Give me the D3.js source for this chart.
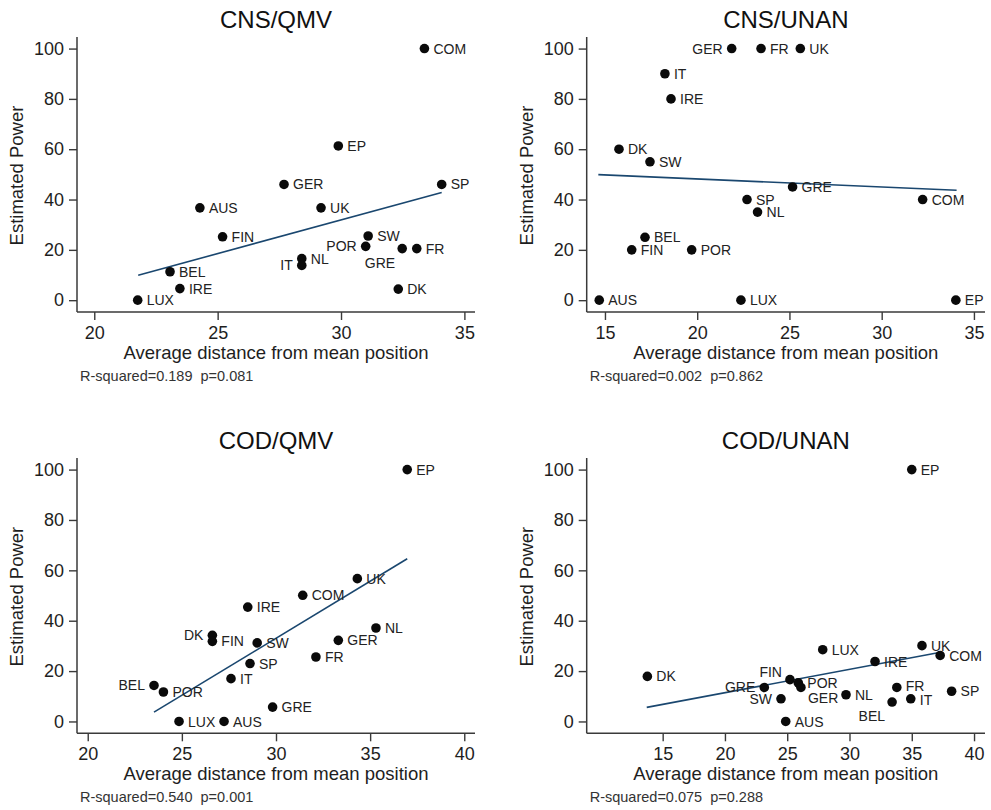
<!DOCTYPE html>
<html>
<head>
<meta charset="utf-8">
<script src="https://cdn.jsdelivr.net/npm/d3@7"></script>
<style>
  html, body { margin: 0; padding: 0; background: #fff; }
  svg { display: block; font-family: "Liberation Sans", Arial, Helvetica, sans-serif; }
</style>
</head>
<body>
<svg id="chart" width="991" height="810"></svg>
<script>
// ---------------- DATA ----------------
const titles = ["CNS/QMV", "CNS/UNAN", "COD/QMV", "COD/UNAN"];
const notes = ["R-squared=0.189  p=0.081", "R-squared=0.002  p=0.862",
               "R-squared=0.540  p=0.001", "R-squared=0.075  p=0.288"];
const xTicks1 = [20, 25, 30, 35];
const xTicks2 = [15, 20, 25, 30, 35];
const xTicks3 = [20, 25, 30, 35, 40];
const xTicks4 = [15, 20, 25, 30, 35, 40];
const yTicks = [0, 20, 40, 60, 80, 100];
const xTitle = "Average distance from mean position";
const yTitle = "Estimated Power";

// CNS/QMV
const names1 = ["COM","EP","SP","GER","AUS","UK","FIN","SW","POR","GRE","FR","NL","IT","BEL","IRE","DK","LUX"];
const dist1  = [33.38,29.89,34.08,27.69,24.28,29.19,25.20,31.10,31.00,32.48,33.07,28.41,28.41,23.07,23.47,32.32,21.76];
const power1 = [100,61.3,46.0,46.0,36.7,36.7,25.2,25.5,21.4,20.5,20.5,16.5,13.8,11.3,4.6,4.4,0];
const fit1   = [[21.78, 9.9], [34.08, 42.8]];

// CNS/UNAN
const names2 = ["GER","FR","UK","IT","IRE","DK","SW","GRE","SP","COM","NL","BEL","FIN","POR","AUS","LUX","EP"];
const dist2  = [21.87,23.46,25.59,18.25,18.58,15.76,17.44,25.17,22.70,32.22,23.27,17.17,16.45,19.70,14.69,22.37,34.02];
const power2 = [100,100,100,90,80,60,55,45,40,40,35,25,20,20,0,0,0];
const fit2   = [[14.64, 49.9], [34.06, 43.7]];

// COD/QMV
const names3 = ["EP","UK","COM","IRE","NL","DK","FIN","SW","GER","FR","SP","IT","BEL","POR","GRE","LUX","AUS"];
const dist3  = [36.97,34.32,31.42,28.50,35.31,26.62,26.62,29.00,33.31,32.12,28.62,27.61,23.52,24.02,29.82,24.85,27.24];
const power3 = [100,56.7,50.1,45.4,37.1,34.2,31.8,31.2,32.2,25.6,23.0,17.0,14.3,11.7,5.7,0,0];
const fit3   = [[23.52, 3.7], [36.97, 64.6]];

// COD/UNAN
const names4 = ["EP","UK","COM","LUX","IRE","DK","FIN","POR","GER","GRE","SW","AUS","NL","FR","IT","BEL","SP"];
const dist4  = [35.00,35.82,37.28,27.85,32.05,13.77,25.22,25.89,26.10,23.16,24.50,24.88,29.72,33.80,34.92,33.42,38.20];
const power4 = [100,30.1,26.2,28.5,23.8,17.9,16.6,15.3,13.5,13.5,9.0,0,10.6,13.5,9.0,7.7,12.0];
const fit4   = [[13.72, 5.6], [37.32, 27.5]];

// label clock positions (default 3 o'clock)
const labelPos = [
  {IT: 9, POR: 9, GRE: 7},
  {GER: 9},
  {DK: 9, BEL: 9},
  {GRE: 9, SW: 9, FIN: 10, GER: 4, BEL: 7, IT: 35, FR: 25}
];

// ---------------- LAYOUT ----------------
const panels = [
  {left: 77,    right: 475, top: 37,  bottom: 312,   xDom: [19.30, 35.43], ticks: xTicks1, names: names1, xs: dist1, ys: power1, fit: fit1},
  {left: 586.7, right: 985, top: 37,  bottom: 312,   xDom: [14.01, 35.60], ticks: xTicks2, names: names2, xs: dist2, ys: power2, fit: fit2},
  {left: 77,    right: 475, top: 458, bottom: 733.3, xDom: [19.43, 40.57], ticks: xTicks3, names: names3, xs: dist3, ys: power3, fit: fit3},
  {left: 586.7, right: 985, top: 458, bottom: 733.3, xDom: [8.90, 40.88],  ticks: xTicks4, names: names4, xs: dist4, ys: power4, fit: fit4}
];

const offsets = {
  3:  {dx: 9,  dy: 0,  a: "start"},
  35: {dx: 9,  dy: 1.5, a: "start"},
  25: {dx: 9,  dy: -1, a: "start"},
  9:  {dx: -9, dy: 0,  a: "end"},
  7:  {dx: -7, dy: 14, a: "end"},
  4:  {dx: 7,  dy: 11, a: "start"},
  10: {dx: -8, dy: -8, a: "end"}
};

const svg = d3.select("#chart");
const axisColor = "#3a3a3a";
const textColor = "#1e1e1e";

panels.forEach((p, i) => {
  const x = d3.scaleLinear().domain(p.xDom).range([p.left, p.right]);
  const y = d3.scaleLinear().domain([-4.7, 104.6]).range([p.bottom, p.top]);
  const g = svg.append("g");

  const yAxis = d3.axisLeft(y).tickValues(yTicks).tickSize(8).tickPadding(5);
  const ya = g.append("g").attr("transform", `translate(${p.left},0)`).call(yAxis);
  const xAxis = d3.axisBottom(x).tickValues(p.ticks).tickSize(8).tickPadding(6);
  const xa = g.append("g").attr("transform", `translate(0,${p.bottom})`).call(xAxis);
  [ya, xa].forEach(a => {
    a.select(".domain").remove();
    a.selectAll(".tick line").attr("stroke", axisColor).attr("stroke-width", 1.4);
    a.selectAll(".tick text").attr("fill", textColor)
      .style("font-size", "18px").style("font-family", "Liberation Sans, Arial, sans-serif");
  });
  g.append("line").attr("x1", p.left).attr("x2", p.left).attr("y1", p.top).attr("y2", p.bottom)
    .attr("stroke", axisColor).attr("stroke-width", 1.5);
  g.append("line").attr("x1", p.left).attr("x2", p.right).attr("y1", p.bottom).attr("y2", p.bottom)
    .attr("stroke", axisColor).attr("stroke-width", 1.5);

  // title
  g.append("text").attr("x", (p.left + p.right) / 2).attr("y", p.top - 9)
    .attr("text-anchor", "middle").attr("fill", "#111").style("font-size", "24px")
    .text(titles[i]);
  // axis titles
  g.append("text").attr("x", (p.left + p.right) / 2).attr("y", p.bottom + 46.5)
    .attr("text-anchor", "middle").attr("fill", textColor).style("font-size", "18.5px")
    .text(xTitle);
  g.append("text")
    .attr("transform", `translate(${p.left - 54},${(p.top + p.bottom) / 2 + 1}) rotate(-90)`)
    .attr("text-anchor", "middle").attr("fill", textColor).style("font-size", "18.5px")
    .text(yTitle);
  // note
  g.append("text").attr("x", p.left + 3).attr("y", p.bottom + 68.5)
    .attr("fill", "#333").style("font-size", "14.5px")
    .attr("xml:space", "preserve").style("white-space", "pre")
    .text(notes[i]);

  // fit line
  g.append("line")
    .attr("x1", x(p.fit[0][0])).attr("y1", y(p.fit[0][1]))
    .attr("x2", x(p.fit[1][0])).attr("y2", y(p.fit[1][1]))
    .attr("stroke", "#1a476f").attr("stroke-width", 1.6);

  const pts = p.names.map((n, k) => ({n, x: p.xs[k], y: p.ys[k]}));
  g.append("g").selectAll("circle").data(pts).join("circle")
    .attr("cx", d => x(d.x)).attr("cy", d => y(d.y)).attr("r", 4.8)
    .attr("fill", "#0a0a0a");
  g.append("g").selectAll("text").data(pts).join("text")
    .each(function(d) {
      const o = offsets[labelPos[i][d.n] || 3];
      d3.select(this)
        .attr("x", x(d.x) + o.dx).attr("y", y(d.y) + o.dy)
        .attr("dy", "0.36em").attr("text-anchor", o.a);
    })
    .attr("fill", "#222").style("font-size", "14px")
    .text(d => d.n);
});
</script>
</body>
</html>
